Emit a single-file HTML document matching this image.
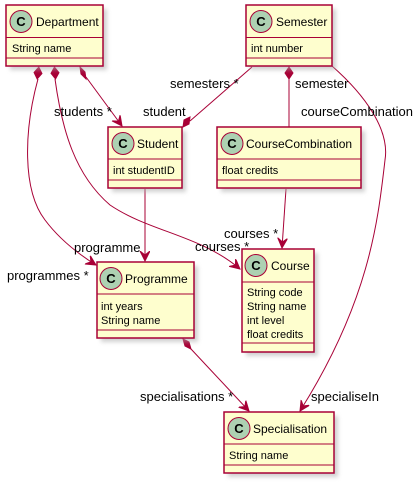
<!DOCTYPE html>
<html><head><meta charset="utf-8"><style>
html,body{margin:0;padding:0;background:#fff;}
svg{display:block;}
text{font-family:"Liberation Sans",sans-serif;fill:#000;}
.lbl{font-size:13px;}
.nm{font-size:12px;}
.at{font-size:11px;}
.b{fill:#FEFECE;stroke:#A80036;stroke-width:1.5;}
.s{fill:#aaa;opacity:.55;}
.l{stroke:#A80036;stroke-width:1;fill:none;}
.c{fill:#ADD1B2;stroke:#A80036;stroke-width:1;}
.d{fill:#A80036;stroke:#A80036;}
</style></head><body>
<svg width="418" height="490" viewBox="0 0 418 490" xmlns="http://www.w3.org/2000/svg">
<defs>
<filter id="f" x="-10%" y="-10%" width="130%" height="130%"><feGaussianBlur stdDeviation="2"/></filter>
<marker id="a" markerWidth="12" markerHeight="12" refX="10" refY="5" orient="auto" markerUnits="userSpaceOnUse"><path d="M0,0 L10,5 L0,10 L4,5 Z" fill="#A80036" stroke="#A80036"/></marker>
</defs>
<path class="l" d="M38,79 C24,130 22,190 45,220 C60,240 80,255 96,265" marker-end="url(#a)"/>
<polygon class="d" points="38,67 42,73 38,79 34,73" transform="rotate(8 38 73)"/>
<path class="l" d="M55,79 C62,130 75,175 110,205 C150,232 200,235 240,269" marker-end="url(#a)"/>
<polygon class="d" points="55,67 59,73 55,79 51,73" transform="rotate(-5 55 73)"/>
<path class="l" d="M86,77 L122,126" marker-end="url(#a)"/>
<polygon class="d" points="80,67 85,72 86,79 81,74"/>
<path class="l" d="M145,189 L145,261" marker-end="url(#a)"/>
<path class="l" d="M252,67 L190,121"/>
<polygon class="d" points="183,127 184,120 190,117 189,124"/>
<path class="l" d="M289,79 L289,127"/>
<polygon class="d" points="289,67 293,73 289,79 285,73"/>
<path class="l" d="M286,189 L282,248" marker-end="url(#a)"/>
<path class="l" d="M332,66 C365,95 390,130 385,160 C378,220 370,300 300,411" marker-end="url(#a)"/>
<path class="l" d="M191,349 L249,411" marker-end="url(#a)"/>
<polygon class="d" points="183,339 189,342 191,349 185,346"/>
<text class="lbl" x="54" y="116">students *</text>
<text class="lbl" x="7" y="280">programmes *</text>
<text class="lbl" x="74" y="252">programme</text>
<text class="lbl" x="195" y="251">courses *</text>
<text class="lbl" x="224" y="238">courses *</text>
<text class="lbl" x="170" y="88">semesters *</text>
<text class="lbl" x="143" y="116">student</text>
<text class="lbl" x="295" y="88">semester</text>
<text class="lbl" x="301" y="116">courseCombination</text>
<text class="lbl" x="140" y="401">specialisations *</text>
<text class="lbl" x="311" y="401">specialiseIn</text>
<rect class="s" x="10" y="9" width="97" height="61" filter="url(#f)"/>
<rect class="b" x="6" y="5" width="97" height="61"/>
<line class="l" x1="6" y1="37.5" x2="103" y2="37.5" stroke-width="1.5"/><line class="l" x1="6" y1="58" x2="103" y2="58" stroke-width="1.5"/>
<circle class="c" cx="21" cy="21.5" r="11"/><text x="21" y="26" text-anchor="middle" style="font-size:13px;font-weight:bold">C</text>
<text class="nm" x="36" y="26">Department</text><text class="at" x="12" y="52">String name</text>
<rect class="s" x="250" y="9" width="86" height="61" filter="url(#f)"/>
<rect class="b" x="246" y="5" width="86" height="61"/>
<line class="l" x1="246" y1="37.5" x2="332" y2="37.5" stroke-width="1.5"/><line class="l" x1="246" y1="58" x2="332" y2="58" stroke-width="1.5"/>
<circle class="c" cx="261" cy="21.5" r="11"/><text x="261" y="26" text-anchor="middle" style="font-size:13px;font-weight:bold">C</text>
<text class="nm" x="276" y="26">Semester</text><text class="at" x="251" y="52">int number</text>
<rect class="s" x="112" y="131" width="74" height="61" filter="url(#f)"/>
<rect class="b" x="108" y="127" width="74" height="61"/>
<line class="l" x1="108" y1="159" x2="182" y2="159" stroke-width="1.5"/><line class="l" x1="108" y1="180" x2="182" y2="180" stroke-width="1.5"/>
<circle class="c" cx="123" cy="143.5" r="11"/><text x="123" y="148" text-anchor="middle" style="font-size:13px;font-weight:bold">C</text>
<text class="nm" x="137" y="148">Student</text><text class="at" x="113" y="174">int studentID</text>
<rect class="s" x="221" y="131" width="144" height="61" filter="url(#f)"/>
<rect class="b" x="217" y="127" width="144" height="61"/>
<line class="l" x1="217" y1="159" x2="361" y2="159" stroke-width="1.5"/><line class="l" x1="217" y1="180" x2="361" y2="180" stroke-width="1.5"/>
<circle class="c" cx="232" cy="143.5" r="11"/><text x="232" y="148" text-anchor="middle" style="font-size:13px;font-weight:bold">C</text>
<text class="nm" x="246" y="148">CourseCombination</text><text class="at" x="222" y="174">float credits</text>
<rect class="s" x="101" y="266" width="97" height="76" filter="url(#f)"/>
<rect class="b" x="97" y="262" width="97" height="76"/>
<line class="l" x1="97" y1="294" x2="194" y2="294" stroke-width="1.5"/><line class="l" x1="97" y1="330" x2="194" y2="330" stroke-width="1.5"/>
<circle class="c" cx="111" cy="278.5" r="11"/><text x="111" y="283" text-anchor="middle" style="font-size:13px;font-weight:bold">C</text>
<text class="nm" x="125" y="283">Programme</text>
<text class="at" x="101" y="310">int years</text><text class="at" x="101" y="324">String name</text>
<rect class="s" x="246" y="253" width="72" height="103" filter="url(#f)"/>
<rect class="b" x="242" y="249" width="72" height="103"/>
<line class="l" x1="242" y1="282" x2="314" y2="282" stroke-width="1.5"/><line class="l" x1="242" y1="343" x2="314" y2="343" stroke-width="1.5"/>
<circle class="c" cx="256" cy="265.5" r="11"/><text x="256" y="270" text-anchor="middle" style="font-size:13px;font-weight:bold">C</text>
<text class="nm" x="271" y="270">Course</text>
<text class="at" x="247" y="296">String code</text><text class="at" x="247" y="310">String name</text>
<text class="at" x="247" y="324">int level</text><text class="at" x="247" y="338">float credits</text>
<rect class="s" x="228" y="416" width="110" height="61" filter="url(#f)"/>
<rect class="b" x="224" y="412" width="110" height="61"/>
<line class="l" x1="224" y1="444" x2="334" y2="444" stroke-width="1.5"/><line class="l" x1="224" y1="465" x2="334" y2="465" stroke-width="1.5"/>
<circle class="c" cx="239" cy="428.5" r="11"/><text x="239" y="433" text-anchor="middle" style="font-size:13px;font-weight:bold">C</text>
<text class="nm" x="253" y="433">Specialisation</text><text class="at" x="229" y="459">String name</text>
</svg>
</body></html>
